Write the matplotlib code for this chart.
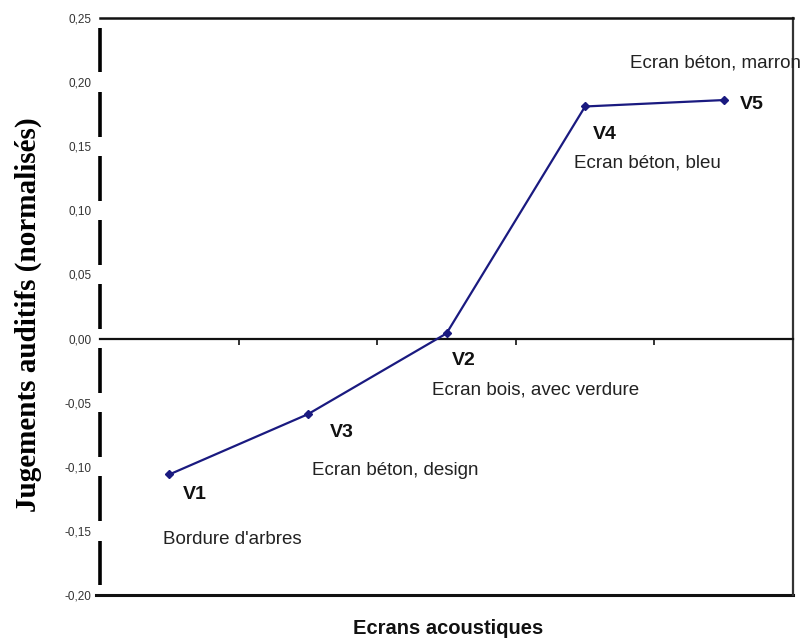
import matplotlib
matplotlib.use("Agg")
import matplotlib.pyplot as plt
import matplotlib.transforms as mtransforms

# Data
screens = ["V1", "V3", "V2", "V4", "V5"]
descriptions = ["Bordure d'arbres", "Ecran béton, design", "Ecran bois, avec verdure",
                "Ecran béton, bleu", "Ecran béton, marron"]
scores = [-0.106, -0.059, 0.004, 0.181, 0.186]
y_ticks = [0.25, 0.20, 0.15, 0.10, 0.05, 0.00, -0.05, -0.10, -0.15, -0.20]
y_tick_labels = ["0,25", "0,20", "0,15", "0,10", "0,05", "0,00", "-0,05", "-0,10", "-0,15", "-0,20"]

W, H = 803, 639
fig = plt.figure(figsize=(W / 100, H / 100), dpi=100)
ax = fig.add_axes([100 / W, 1 - 595 / H, (793 - 100) / W, (595 - 18) / H])

x = list(range(len(screens)))
ax.plot(x, scores, color="#1a1a80", lw=1.6, marker="D", markersize=4, zorder=5)

ax.set_xlim(-0.5, len(screens) - 0.5)
ax.set_ylim(-0.20, 0.25)

# x axis on zero line
ax.spines["bottom"].set_position(("data", 0))
ax.spines["bottom"].set_linewidth(1.6)
ax.spines["bottom"].set_color("#111111")
ax.spines["top"].set_linewidth(1.8)
ax.spines["top"].set_color("#111111")
ax.spines["right"].set_linewidth(1.6)
ax.spines["right"].set_color("#333333")
ax.spines["left"].set_visible(False)
ax.set_xticks([i + 0.5 for i in range(len(screens))])
ax.set_xticklabels([])
ax.tick_params(axis="x", direction="out", length=4, width=1.2, color="#111111")

# bottom border
ax.axhline(-0.20, color="#111111", lw=2.2, clip_on=False, xmin=-0.006, xmax=1.0)

# left axis drawn as segments broken at each tick
trans = mtransforms.blended_transform_factory(ax.transAxes, ax.transData)
gap = 0.0075
ys = sorted(y_ticks)
for lo, hi in zip(ys[:-1], ys[1:]):
    ax.plot([0, 0], [lo + gap, hi - gap], transform=trans, color="black", lw=2.6,
            solid_capstyle="butt", clip_on=False)

ax.set_yticks(y_ticks)
ax.set_yticklabels(y_tick_labels)
ax.tick_params(axis="y", length=0, pad=6, labelsize=8.5, labelcolor="#333333")
for lab in ax.get_yticklabels():
    lab.set_fontfamily("Liberation Sans")

ax.set_ylabel("Jugements auditifs (normalisés)", fontfamily="Liberation Serif",
              fontweight="bold", fontsize=21)
ax.yaxis.set_label_coords(-0.084, 0.485)

fig.text(448 / W, 1 - 628 / H, "Ecrans acoustiques", fontfamily="Liberation Sans",
         fontweight="bold", fontsize=14.5, ha="center", va="center", color="#111111")

# annotations (offsets in pixels)
name_off = [(14, -20), (22, -18), (5, -27), (8, -28), (16, -4)]
desc_off = [(-6, -65), (4, -56), (-14, -57), (-11, -57), (-94, 37)]
for xi, yi, name, desc, no, do in zip(x, scores, screens, descriptions, name_off, desc_off):
    ax.annotate(name, (xi, yi), xytext=no, textcoords="offset pixels",
                ha="left", va="center", fontsize=14, fontweight="bold",
                fontfamily="Liberation Sans", color="#111111", annotation_clip=False)
    ax.annotate(desc, (xi, yi), xytext=do, textcoords="offset pixels",
                ha="left", va="center", fontsize=13.5,
                fontfamily="Liberation Sans", color="#222222", annotation_clip=False)

fig.savefig("out.png", dpi=100)
